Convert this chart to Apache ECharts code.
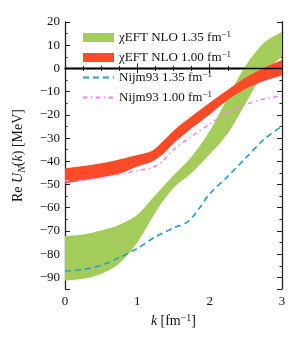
<!DOCTYPE html>
<html><head><meta charset="utf-8">
<script src="https://cdn.jsdelivr.net/npm/echarts@6/dist/echarts.min.js"></script>
<style>html,body{margin:0;padding:0;background:#fff}#c{width:301px;height:344px}</style>
</head><body><div id="c"></div>
<script>
// ---- data ----
const kBand = [0, 0.25, 0.5, 0.75, 1.0, 1.25, 1.5, 1.75, 2.0, 2.25, 2.5, 2.75, 3.0];
const green135Upper = [-72.2, -71.5, -69.8, -67.3, -63, -54.5, -46, -38, -27, -12.5, 1.3, 11, 15.8];
const green135Lower = [-91.4, -90.6, -88.5, -84, -75, -62, -51.5, -45, -37, -28, -15, -2, 5];

const kRed = [0, 0.25, 0.5, 0.75, 1.0, 1.2, 1.35, 1.5, 1.75, 2.0, 2.25, 2.5, 2.75, 3.0];
const red100Upper = [-43, -42, -40.8, -39.2, -37.3, -35.6, -31.5, -26.8, -20.6, -14.8, -9.2, -3.9, 0.2, 3.6];
const red100Lower = [-49.5, -48.3, -47, -45.3, -42.2, -40.2, -37, -32.3, -25.8, -19.8, -13.6, -8.8, -5.4, -3];

const kNijm135 = [0, 0.25, 0.5, 0.75, 1.0, 1.25, 1.5, 1.7, 1.85, 2.0, 2.25, 2.5, 2.75, 3.0];
const nijm135 = [-87.3, -86.6, -84.8, -81.5, -77.5, -72.5, -68.7, -66, -60.5, -54, -46.5, -38.5, -30.6, -24.8];

const kNijm100 = [0, 0.25, 0.5, 0.75, 1.0, 1.2, 1.35, 1.5, 1.75, 2.0, 2.25, 2.5, 2.75, 3.0];
const nijm100 = [-48.4, -48, -47, -45.6, -44, -42.8, -40, -35, -29.3, -24, -19, -15.5, -13.2, -11.8];

const seriesNames = ['χEFT NLO 1.35', 'χEFT NLO 1.00', 'Nijm93 1.35', 'Nijm93 1.00'];
const yTickValues = [-90, -80, -70, -60, -50, -40, -30, -20, -10, 0, 10, 20];

// ---- build ----
const FONT = 'Liberation Serif';
const INK = '#222';
const GREEN = '#a3cc5a';
const RED = '#fa4a28';
const BLUE = '#2b9cd8';
const VIOLET = '#ee82ee';

// rows are [value, k]; encode maps column 1 -> x, column 0 -> y (so stacking acts on the value)
const rowsVK = (ks, vs) => ks.map((k, i) => [vs[i], k]);
const rowsDiff = (ks, up, lo) => ks.map((k, i) => [+(up[i] - lo[i]).toFixed(3), k]);
const ENC = { x: 1, y: 0 };

const chart = echarts.init(document.getElementById('c'));

const tickCommon = {
  axisLine: { show: true, lineStyle: { color: INK, width: 1.3 } },
  splitLine: { show: false }
};
const richText = {
  n: { fontFamily: FONT, fontSize: 13, color: '#111' },
  i: { fontFamily: FONT, fontSize: 13, fontStyle: 'italic', color: '#111' },
  sub: { fontFamily: FONT, fontSize: 9, fontStyle: 'italic', color: '#111', padding: [7, 0, 0, 0] },
  s: { fontFamily: FONT, fontSize: 9, color: '#111', padding: [0, 0, 6, 0] }
};
const richTitle = {
  n: { fontFamily: FONT, fontSize: 14, color: '#111' },
  i: { fontFamily: FONT, fontSize: 14, fontStyle: 'italic', color: '#111' },
  sub: { fontFamily: FONT, fontSize: 10, fontStyle: 'italic', color: '#111', padding: [7, 0, 0, 0] },
  s: { fontFamily: FONT, fontSize: 10, color: '#111', padding: [0, 0, 7, 0] }
};
const fmtY = v => (yTickValues.indexOf(v) >= 0 ? String(v).replace('-', '\u2212') : '');

const yMajor = (pos, labels) => Object.assign({
  type: 'value', min: -95, max: 20, splitNumber: 12, position: pos,
  axisTick: { show: true, inside: true, length: 5, lineStyle: { color: INK, width: 1 } },
  axisLabel: { show: labels, formatter: fmtY, fontFamily: FONT, fontSize: 13, color: '#111', margin: 5 }
}, tickCommon);
const yMinor = (pos) => ({
  type: 'value', min: -95, max: 20, interval: 5, position: pos,
  axisLine: { show: false }, splitLine: { show: false },
  axisTick: { show: true, inside: true, length: 2.5, lineStyle: { color: INK, width: 1 } },
  axisLabel: { show: false }
});
const xAx = (pos, labels) => Object.assign({
  type: 'value', min: 0, max: 3, interval: 1, position: pos,
  axisTick: { show: true, inside: true, length: 5, lineStyle: { color: INK, width: 1 } },
  minorTick: { show: true, splitNumber: 4, length: 2.5, lineStyle: { color: INK, width: 1 } },
  axisLabel: { show: labels, fontFamily: FONT, fontSize: 13, color: '#111', margin: 6 }
}, tickCommon);

const xBottom = xAx('bottom', true);
xBottom.name = '{i|k} {n|[fm}{s|\u22121}{n|]}';
xBottom.nameLocation = 'middle';
xBottom.nameGap = 22;
xBottom.nameTextStyle = { rich: richTitle };

const yLeft = yMajor('left', true);
yLeft.name = '{n|Re }{i|U}{sub|N}{n|(}{i|k}{n|) [MeV]}';
yLeft.nameLocation = 'middle';
yLeft.nameRotate = 90;
yLeft.nameGap = 38;
yLeft.nameTextStyle = { rich: richTitle };

const lineCommon = { type: 'line', smooth: 0.3, showSymbol: false, symbol: 'none',
  xAxisIndex: 0, yAxisIndex: 0, stackStrategy: 'all', encode: ENC };

const option = {
  animation: false,
  grid: { left: 65, right: 19, top: 22, bottom: 55, containLabel: false },
  xAxis: [xBottom, xAx('top', false)],
  yAxis: [yLeft, yMinor('left'), yMajor('right', false), yMinor('right')],
  legend: {
    orient: 'vertical', left: 77, top: 25, itemWidth: 31, itemHeight: 9, itemGap: 6, z: 10,
    selectedMode: false,
    textStyle: { fontFamily: FONT, fontSize: 13, color: '#111', rich: richText },
    formatter: name => '{n|' + name + ' fm}{s|\u22121}',
    data: [
      { name: seriesNames[0], icon: 'rect', itemStyle: { color: GREEN, opacity: 1 } },
      { name: seriesNames[1], icon: 'rect', itemStyle: { color: RED, opacity: 1 } },
      { name: seriesNames[2], itemStyle: { color: 'rgba(0,0,0,0)', borderWidth: 0 } },
      { name: seriesNames[3], itemStyle: { color: 'rgba(0,0,0,0)', borderWidth: 0 } }
    ]
  },
  series: [
    Object.assign({}, lineCommon, { name: '_g', stack: 'g', data: rowsVK(kBand, green135Lower), lineStyle: { opacity: 0 }, z: 2 }),
    Object.assign({}, lineCommon, { name: seriesNames[0], stack: 'g', data: rowsDiff(kBand, green135Upper, green135Lower),
      lineStyle: { opacity: 0, color: GREEN }, itemStyle: { color: GREEN }, areaStyle: { color: GREEN, opacity: 1 }, z: 2 }),
    Object.assign({}, lineCommon, { name: '_r', stack: 'r', data: rowsVK(kRed, red100Lower), lineStyle: { opacity: 0 }, z: 3 }),
    Object.assign({}, lineCommon, { name: seriesNames[1], stack: 'r', data: rowsDiff(kRed, red100Upper, red100Lower),
      lineStyle: { opacity: 0, color: RED }, itemStyle: { color: RED }, areaStyle: { color: RED, opacity: 1 }, z: 3 }),
    Object.assign({}, lineCommon, { name: seriesNames[2], data: rowsVK(kNijm135, nijm135),
      itemStyle: { color: BLUE }, lineStyle: { color: BLUE, width: 1.7, type: [6, 4] }, z: 4 }),
    Object.assign({}, lineCommon, { name: seriesNames[3], data: rowsVK(kNijm100, nijm100),
      itemStyle: { color: VIOLET }, lineStyle: { color: VIOLET, width: 1.6, type: [4.5, 3.5, 1.3, 3.5] }, z: 5,
      markLine: { silent: true, symbol: 'none', label: { show: false }, z: 6,
        lineStyle: { color: '#000', type: 'solid', width: 1.3 }, data: [{ yAxis: 0 }] } })
  ]
};
chart.setOption(option);
</script></body></html>
